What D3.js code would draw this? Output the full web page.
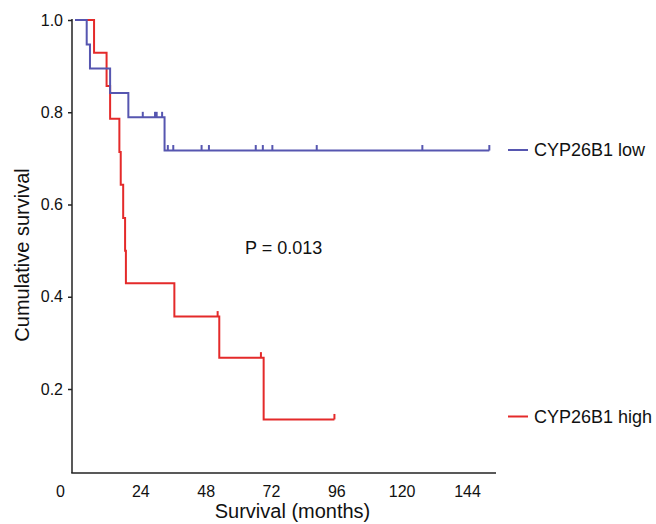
<!DOCTYPE html>
<html>
<head>
<meta charset="utf-8">
<script src="https://cdn.jsdelivr.net/npm/d3@7"></script>
<style>
  html, body { margin: 0; padding: 0; background: #fff; }
  svg { display: block; font-family: Arial, "Liberation Sans", sans-serif; }
</style>
</head>
<body>
<svg id="chart" width="656" height="524"></svg>
<script>
// ---- data ----
const xTicks = [0, 24, 48, 72, 96, 120, 144];
const yTicks = [0.2, 0.4, 0.6, 0.8, 1.0];

const seriesNames = ["CYP26B1 low", "CYP26B1 high"];

// step changes (time in months, cumulative survival after the step)
const lowTimes = [0, 4.3, 5.5, 12.9, 19.6, 32.9];
const lowSurv  = [1.0, 0.947, 0.895, 0.842, 0.789, 0.717];
const lowCensored = [24.9, 29.4, 30.0, 32.0, 34.1, 36.1, 46.5, 49.2, 66.4, 69.0, 72.5, 88.8, 127.6, 152.2];

const highTimes = [0, 7.0, 11.6, 12.9, 16.3, 16.8, 17.7, 18.4, 18.7, 36.5, 53.0, 69.3];
const highSurv  = [1.0, 0.929, 0.857, 0.786, 0.714, 0.643, 0.571, 0.5, 0.429, 0.357, 0.268, 0.134];
const highCensored = [52.4, 68.3, 95.3];

const pText = "P = 0.013";

// ---- layout ----
const svg = d3.select("#chart");
const axisLeftX = 72, axisBottomY = 473, axisTopY = 19, axisRightX = 496;
const x = d3.scaleLinear().domain([0, 144]).range([75, 467]);
const y = d3.scaleLinear().domain([0, 1]).range([481.25, 20]);

const colors = { low: "#5656b0", high: "#e42a2a" };

// axes lines
svg.append("line")
  .attr("x1", axisLeftX).attr("x2", axisLeftX)
  .attr("y1", axisTopY).attr("y2", axisBottomY)
  .attr("stroke", "#222").attr("stroke-width", 1.5);
svg.append("line")
  .attr("x1", axisLeftX - 0.75).attr("x2", axisRightX)
  .attr("y1", axisBottomY).attr("y2", axisBottomY)
  .attr("stroke", "#222").attr("stroke-width", 1.5);

// y axis ticks
const yAxis = d3.axisLeft(y).tickValues(yTicks).tickSize(4).tickPadding(5)
  .tickFormat(d3.format(".1f"));
const gy = svg.append("g").attr("transform", `translate(${axisLeftX},0)`).call(yAxis);
gy.select(".domain").remove();
gy.selectAll(".tick line").attr("stroke", "#222").attr("stroke-width", 1.5);
gy.selectAll(".tick text").attr("font-size", 16).attr("fill", "#111")
  .attr("font-family", 'Arial, "Liberation Sans", sans-serif');

// x axis labels
const xAxis = d3.axisBottom(x).tickValues(xTicks).tickSize(0).tickPadding(13);
const gx = svg.append("g").attr("transform", `translate(0,${axisBottomY})`).call(xAxis);
gx.select(".domain").remove();
gx.selectAll(".tick text").attr("font-size", 16).attr("fill", "#111")
  .attr("font-family", 'Arial, "Liberation Sans", sans-serif')
  .attr("dx", d => d === 0 ? -15 : 0);

// axis titles
svg.append("text")
  .attr("x", 292.5).attr("y", 518)
  .attr("text-anchor", "middle")
  .attr("font-size", 20).attr("fill", "#111")
  .text("Survival (months)");
svg.append("text")
  .attr("transform", "translate(22,255) rotate(-90)")
  .attr("text-anchor", "middle")
  .attr("dominant-baseline", "central")
  .attr("font-size", 20).attr("fill", "#111")
  .text("Cumulative survival");

// KM curves
function stepPoints(times, surv, endTime) {
  const pts = [];
  for (let i = 0; i < times.length; i++) {
    if (i > 0) pts.push([times[i], surv[i - 1]]);
    pts.push([times[i], surv[i]]);
  }
  pts.push([endTime, surv[surv.length - 1]]);
  return pts;
}
function survAt(times, surv, t) {
  let s = surv[0];
  for (let i = 0; i < times.length; i++) if (times[i] <= t) s = surv[i];
  return s;
}

const line = d3.line().x(d => x(d[0])).y(d => y(d[1]));

function drawSeries(times, surv, censored, color) {
  const endT = d3.max(censored.concat(times));
  svg.append("path")
    .attr("d", line(stepPoints(times, surv, endT)))
    .attr("fill", "none")
    .attr("stroke", color)
    .attr("stroke-width", 2)
    .attr("stroke-linejoin", "miter");
  svg.append("g").selectAll("line")
    .data(censored)
    .join("line")
    .attr("x1", d => x(d)).attr("x2", d => x(d))
    .attr("y1", d => y(survAt(times, surv, d)) - 5.5)
    .attr("y2", d => y(survAt(times, surv, d)))
    .attr("stroke", color)
    .attr("stroke-width", 2);
}

drawSeries(highTimes, highSurv, highCensored, colors.high);
drawSeries(lowTimes, lowSurv, lowCensored, colors.low);

// legend
const legend = [
  { name: seriesNames[0], color: colors.low, y: 150 },
  { name: seriesNames[1], color: colors.high, y: 416.5 }
];
const lg = svg.append("g").selectAll("g").data(legend).join("g");
lg.append("line")
  .attr("x1", 508).attr("x2", 528)
  .attr("y1", d => d.y).attr("y2", d => d.y)
  .attr("stroke", d => d.color).attr("stroke-width", 2);
lg.append("text")
  .attr("x", 534).attr("y", d => d.y)
  .attr("dominant-baseline", "central")
  .attr("font-size", 18).attr("fill", "#111")
  .text(d => d.name);

// p-value
svg.append("text")
  .attr("x", 245).attr("y", 254)
  .attr("font-size", 18).attr("fill", "#111")
  .text(pText);
</script>
</body>
</html>
